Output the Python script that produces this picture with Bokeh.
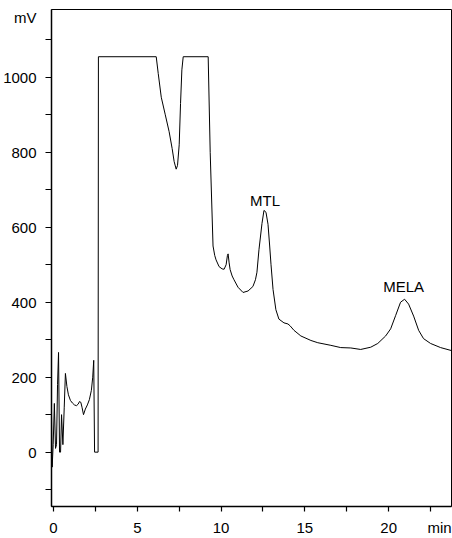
from bokeh.plotting import figure
from bokeh.models import Range1d, FixedTicker, ColumnDataSource
from bokeh.core.properties import value
from bokeh.embed import file_html
from bokeh.resources import INLINE

# Chromatogram trace (time in min, signal in mV)
time_min = [-0.12, -0.08, -0.02, 0.05, 0.12, 0.18, 0.24, 0.30, 0.36, 0.42, 0.48, 0.56,
            0.64, 0.71, 0.80, 0.89, 1.01, 1.13, 1.25, 1.37, 1.47, 1.55, 1.63, 1.70,
            1.79, 1.90, 2.02, 2.14, 2.26, 2.34, 2.40, 2.45, 2.66, 2.68,
            6.13, 6.25, 6.43, 6.67, 6.90, 7.08, 7.20, 7.32, 7.40, 7.50, 7.58, 7.66, 7.74,
            9.23, 9.35, 9.52, 9.62, 9.70, 9.88, 10.06, 10.18, 10.30, 10.38, 10.42, 10.48,
            10.54, 10.66, 10.77, 11.01, 11.31, 11.61, 11.90, 12.05, 12.14, 12.26, 12.44,
            12.56, 12.68, 12.80, 12.90, 12.98, 13.10, 13.27, 13.45, 13.75, 13.99, 14.12,
            14.35, 14.76, 15.36, 15.77, 16.55, 17.14, 17.74, 18.33, 18.93, 19.35, 19.82,
            20.12, 20.42, 20.71, 20.95, 21.19, 21.49, 21.79, 22.08, 22.50, 23.10, 23.75]
signal_mv = [110, -40, 20, 130, 10, 20, 180, 266, 0, 0, 100, 20,
             120, 210, 175, 153, 138, 131, 126, 124, 128, 135, 133, 120,
             100, 115, 126, 140, 165, 200, 245, 0, 0, 1055,
             1055, 1010, 947, 900, 855, 810, 775, 755, 765, 820, 930, 1020, 1055,
             1055, 800, 550, 525, 513, 495, 489, 488, 500, 525, 529, 505,
             487, 470, 460, 440, 426, 430, 442, 460, 480, 540, 610,
             645, 640, 608, 550, 500, 434, 380, 355, 345, 342, 337,
             325, 310, 298, 292, 285, 279, 278, 274, 280, 290, 310,
             329, 365, 400, 408, 395, 363, 325, 303, 290, 279, 271]

# Peak labels
peak_names = ["MTL", "MELA"]
peak_label_t = [12.62, 20.89]
peak_label_mv = [671, 442]

# Ticks (labelled positions, including the unit labels, and tick marks)
x_labels = {0: "0", 5: "5", 10: "10", 15: "15", 20: "20", 23.04: "min"}
x_marks = [0, 2.5, 5, 7.5, 10, 12.5, 15, 17.5, 20, 22.5]
y_labels = {0: "0", 200: "200", 400: "400", 600: "600", 800: "800", 1000: "1000", 1160: "mV"}
y_marks = [-100, 0, 100, 200, 300, 400, 500, 600, 700, 800, 900, 1000, 1100]

FONT = "Liberation Sans"

p = figure(width=452, height=538, output_backend="svg", toolbar_location=None,
           x_range=Range1d(-0.12, 23.75), y_range=Range1d(-145, 1181),
           min_border_left=50, min_border_right=1, min_border_top=9, min_border_bottom=25)
p.background_fill_color = "white"
p.border_fill_color = "white"
p.grid.visible = False
p.outline_line_color = "black"
p.outline_line_width = 1

p.line(time_min, signal_mv, line_color="black", line_width=1)

src = ColumnDataSource(dict(t=peak_label_t, v=peak_label_mv, name=peak_names))
p.text(x="t", y="v", text="name", source=src, text_align="center", text_baseline="middle",
       text_font=value(FONT), text_font_size="15px", text_color="black")

p.xaxis.ticker = FixedTicker(ticks=list(x_labels.keys()), minor_ticks=x_marks)
p.xaxis.major_label_overrides = x_labels
p.yaxis.ticker = FixedTicker(ticks=list(y_labels.keys()), minor_ticks=y_marks)
p.yaxis.major_label_overrides = y_labels
for ax in (p.xaxis, p.yaxis):
    ax.axis_line_color = "black"
    ax.axis_line_width = 1.5
    ax.major_tick_line_color = None
    ax.minor_tick_line_color = "black"
    ax.minor_tick_line_width = 1.2
    ax.major_tick_in = 0
    ax.major_tick_out = 0
    ax.minor_tick_in = 0
    ax.major_label_text_font = FONT
    ax.major_label_text_font_size = "15px"
    ax.major_label_text_color = "black"
p.xaxis.minor_tick_out = 5
p.xaxis.major_label_standoff = 7
p.yaxis.minor_tick_out = 6
p.yaxis.major_label_standoff = 9

open("out.html", "w").write(file_html(p, INLINE))
